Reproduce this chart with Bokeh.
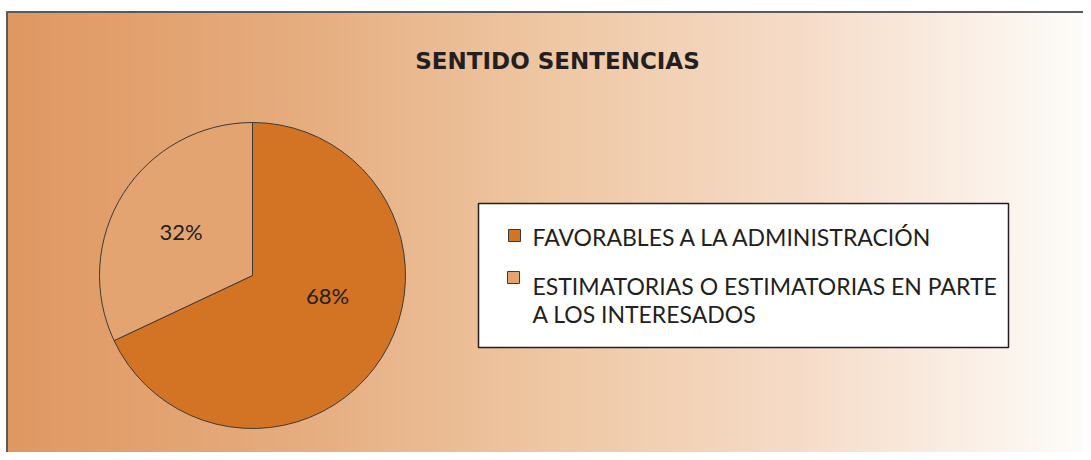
import numpy as np
from bokeh.plotting import figure
from bokeh.models import Range1d
from bokeh.core.properties import value
from bokeh.embed import file_html
from bokeh.resources import INLINE

# ---- data ----
title_text = "SENTIDO SENTENCIAS"
categories = ["FAVORABLES A LA ADMINISTRACIÓN",
              "ESTIMATORIAS O ESTIMATORIAS EN PARTE\nA LOS INTERESADOS"]
shares = [68, 32]
slice_colors = ["#D37424", "#E4A472"]

# ---- layout / styling ----
W, H = 1083, 452
FONT = "Lato"
INK = "#231f20"
p = figure(width=W, height=H, output_backend="svg", toolbar_location=None,
           x_range=Range1d(0, W), y_range=Range1d(0, H), min_border=0)
p.axis.visible = False
p.grid.visible = False
p.outline_line_color = None
p.background_fill_color = "white"
p.border_fill_color = "white"

# background gradient (warm orange on the left -> nearly white on the right)
left_edge, top = 7, 440
stops_x = [7, 300, 545, 800, 1091]
stops_c = [(224, 152, 98), (230, 173, 127), (239, 199, 163), (246, 220, 200), (254, 253, 251)]
N = 400
xs = np.linspace(left_edge, W, N)
img = np.empty((1, N), dtype=np.uint32)
view = img.view(dtype=np.uint8).reshape((1, N, 4))
for ch in range(3):
    view[0, :, ch] = np.interp(xs, stops_x, [c[ch] for c in stops_c]).astype(np.uint8)
view[0, :, 3] = 255
p.image_rgba(image=[img], x=left_edge, y=0, dw=W - left_edge, dh=top)

# frame lines (top and left)
p.segment(x0=[left_edge - 1, left_edge - 0.5], y0=[top + 0.5, 0],
          x1=[W, left_edge - 0.5], y1=[top + 0.5, top + 1],
          line_color="#5a5a5a", line_width=2)

# title
p.text(x=[557], y=[392], text=[title_text], text_font=value("DejaVu Sans"),
       text_font_style="bold", text_font_size="23px", text_align="center",
       text_baseline="middle", text_color=INK)

# pie (starts at 12 o'clock, runs clockwise)
cx, cy, r = 252, 177, 153
fr = np.array(shares, dtype=float) / sum(shares)
cum = np.concatenate([[0], np.cumsum(fr)])
start = np.pi / 2 - cum[1:] * 2 * np.pi
end = np.pi / 2 - cum[:-1] * 2 * np.pi
p.wedge(x=cx, y=cy, radius=r, start_angle=start, end_angle=end,
        fill_color=slice_colors, line_color="#3a3a3a", line_width=1)

# percentage labels (offsets from pie centre)
label_dx = [75, -71.5]
label_dy = [-20, 44]
p.text(x=[cx + d for d in label_dx], y=[cy + d for d in label_dy],
       text=[f"{s}%" for s in shares], text_font=value(FONT),
       text_font_size="22px", text_align="center", text_baseline="middle",
       text_color=INK)

# legend box
p.quad(left=[478], right=[1008], bottom=[105], top=[249],
       fill_color="white", line_color=INK, line_width=1.5)
mark_x = [514, 513]
mark_y = [217, 175]
p.scatter(x=mark_x, y=mark_y, marker="square", size=12,
          fill_color=slice_colors, line_color="#3a3a3a", line_width=1)
text_first_y = [216, 167]
for cat, ty in zip(categories, text_first_y):
    for i, ln in enumerate(cat.split("\n")):
        p.text(x=[532], y=[ty - 28 * i], text=[ln], text_font=value(FONT),
               text_font_size="23px", text_align="left", text_baseline="middle",
               text_color=INK)

open("out.html", "w").write(file_html(p, INLINE))
